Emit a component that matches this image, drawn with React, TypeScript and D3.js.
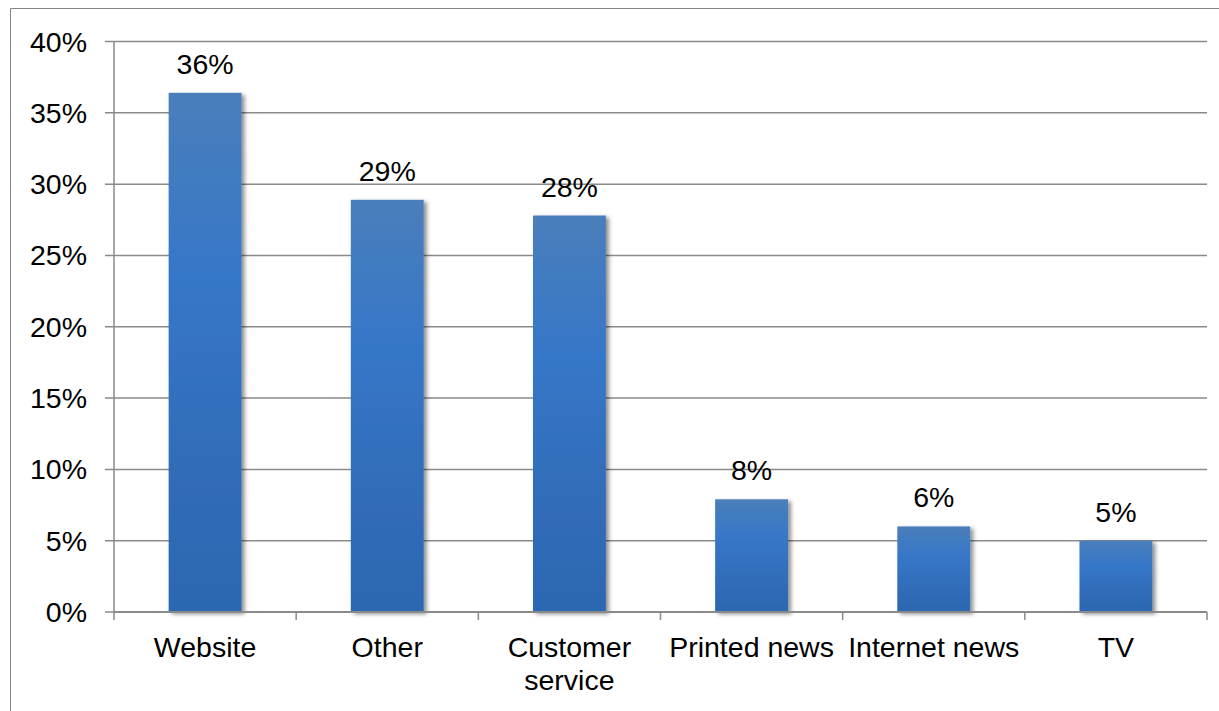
import React from "react";
import * as d3 from "d3";

const categories: string[][] = [["Website"], ["Other"], ["Customer", "service"], ["Printed news"], ["Internet news"], ["TV"]];
const values: number[] = [36.4, 28.9, 27.8, 7.9, 6.0, 5.0];
const yTicks: number[] = [0, 5, 10, 15, 20, 25, 30, 35, 40];

const W = 1219;
const H = 711;
const left = 114;
const right = 1207;
const top = 41.5;
const bottom = 612;
const FONT = "'Liberation Sans', Arial, sans-serif";

export default function App() {
  const keys = categories.map((c) => c.join(" "));
  const x = d3.scaleBand<string>().domain(keys).range([left, right]).paddingInner(0.6).paddingOuter(0.3);
  const band = d3.scaleBand<string>().domain(keys).range([left, right]);
  const y = d3.scaleLinear().domain([0, 40]).range([bottom, top]);
  const boundaries = d3.range(keys.length + 1).map((i) => left + i * band.step());

  return (
    <svg width={W} height={H} style={{ position: "absolute", left: 0, top: 0, display: "block", background: "#fff" }}>
      <defs>
        <linearGradient id="barGrad" x1="0" y1="0" x2="0" y2="1">
          <stop offset="0%" stopColor="#4a7ebb" />
          <stop offset="35%" stopColor="#3677c8" />
          <stop offset="70%" stopColor="#316db9" />
          <stop offset="100%" stopColor="#2c67b1" />
        </linearGradient>
        <filter id="shadow" x="-20%" y="-5%" width="150%" height="115%">
          <feDropShadow dx="3" dy="2" stdDeviation="2" floodColor="#000" floodOpacity="0.45" />
        </filter>
      </defs>
      <path d={`M10.5,${H} V8.5 H${W}`} fill="none" stroke="#868686" strokeWidth={1} />
      {/* gridlines */}
      {yTicks.map((t) => (
        <g key={t}>
          <line x1={left - 9} x2={right} y1={y(t)} y2={y(t)} stroke="#8a8a8a" strokeWidth={1.5} />
          <text x={87} y={y(t) + 10} textAnchor="end" fontFamily={FONT} fontSize={28.5} fill="#000">
            {t}%
          </text>
        </g>
      ))}
      {/* bars */}
      {values.map((v, i) => (
        <rect
          key={keys[i]}
          x={x(keys[i])}
          y={y(v)}
          width={x.bandwidth()}
          height={y(0) - y(v)}
          fill="url(#barGrad)"
          filter="url(#shadow)"
        />
      ))}
      {/* axes */}
      <line x1={left} x2={left} y1={top} y2={bottom} stroke="#8a8a8a" strokeWidth={1.5} />
      <line x1={left} x2={right} y1={bottom} y2={bottom} stroke="#8a8a8a" strokeWidth={2} />
      {boundaries.map((bx, i) => (
        <line key={i} x1={bx} x2={bx} y1={bottom} y2={bottom + 8} stroke="#8a8a8a" strokeWidth={1.5} />
      ))}
      {/* value labels */}
      {values.map((v, i) => (
        <text
          key={keys[i]}
          x={(x(keys[i]) as number) + x.bandwidth() / 2}
          y={y(v) - 19}
          textAnchor="middle"
          fontFamily={FONT}
          fontSize={28.5}
          fill="#000"
        >
          {Math.round(v)}%
        </text>
      ))}
      {/* category labels */}
      {categories.map((lines, i) => (
        <text
          key={keys[i]}
          x={(band(keys[i]) as number) + band.bandwidth() / 2}
          y={657}
          textAnchor="middle"
          fontFamily={FONT}
          fontSize={28.5}
          fill="#000"
        >
          {lines.map((ln, j) => (
            <tspan key={j} x={(band(keys[i]) as number) + band.bandwidth() / 2} dy={j === 0 ? 0 : 33}>
              {ln}
            </tspan>
          ))}
        </text>
      ))}
    </svg>
  );
}
